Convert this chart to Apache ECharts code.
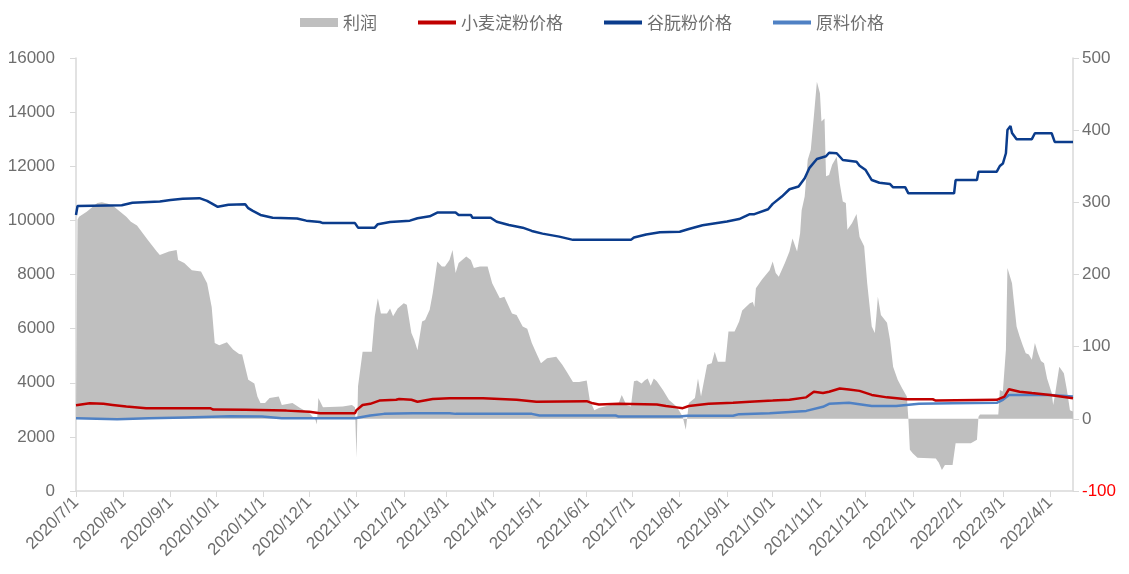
<!DOCTYPE html>
<html><head><meta charset="utf-8">
<script src="https://cdn.jsdelivr.net/npm/echarts@6/dist/echarts.min.js"></script>
<style>html,body{margin:0;padding:0;background:#fff}#c{width:1129px;height:574px}</style>
</head><body><div id="c"></div>
<script>
// Axis range (daily category axis)
const startDate = '2020/7/1';
const endDate = '2022/4/16';
const leftTicks = {min: 0, max: 16000, interval: 2000};
const rightTicks = {min: -100, max: 500, interval: 100};
const seriesNames = ['利润', '小麦淀粉价格', '谷朊粉价格', '原料价格'];

// 利润 (right axis)
const profit = [
['2020/7/1',0],['2020/7/2',276],['2020/7/3',280],['2020/7/8',287],['2020/7/15',299],['2020/7/18',300],['2020/7/22',298],['2020/7/26',294],['2020/7/30',287],
['2020/8/3',280],['2020/8/6',273],['2020/8/10',268],['2020/8/17',248],['2020/8/23',232],['2020/8/25',227],['2020/8/31',232],['2020/9/5',234],['2020/9/6',220],
['2020/9/10',216],['2020/9/15',206],['2020/9/21',204],['2020/9/25',188],['2020/9/28',155],['2020/9/30',105],['2020/10/3',102],['2020/10/8',106],['2020/10/12',96],
['2020/10/16',90],['2020/10/18',89],['2020/10/22',54],['2020/10/26',49],['2020/10/28',31],['2020/10/30',22],['2020/11/2',22],['2020/11/5',29],['2020/11/11',31],
['2020/11/13',19],['2020/11/20',22],['2020/11/25',15],['2020/12/1',8],['2020/12/5',-1],['2020/12/6',-8],['2020/12/7',29],['2020/12/10',16],['2020/12/23',17],
['2020/12/29',19],['2020/12/31',16],['2021/1/1',-54],['2021/1/2',45],['2021/1/5',93],['2021/1/11',93],['2021/1/13',142],['2021/1/15',167],['2021/1/17',146],
['2021/1/21',146],['2021/1/23',153],['2021/1/25',142],['2021/1/28',153],['2021/2/1',160],['2021/2/3',158],['2021/2/6',119],['2021/2/8',109],['2021/2/10',95],
['2021/2/13',135],['2021/2/15',137],['2021/2/18',151],['2021/2/20',174],['2021/2/23',218],['2021/2/26',211],['2021/2/28',211],['2021/3/3',220],['2021/3/5',234],
['2021/3/7',202],['2021/3/9',216],['2021/3/14',225],['2021/3/17',220],['2021/3/19',209],['2021/3/23',211],['2021/3/28',211],['2021/3/31',188],['2021/4/5',167],
['2021/4/8',169],['2021/4/13',146],['2021/4/16',144],['2021/4/20',128],['2021/4/23',125],['2021/4/26',105],['2021/4/29',91],['2021/5/2',77],['2021/5/6',84],
['2021/5/12',86],['2021/5/16',75],['2021/5/19',65],['2021/5/23',51],['2021/5/27',51],['2021/6/1',53],['2021/6/3',26],['2021/6/6',12],['2021/6/9',15],
['2021/6/22',22],['2021/6/24',33],['2021/6/27',19],['2021/6/30',17],['2021/7/2',52],['2021/7/4',53],['2021/7/7',49],['2021/7/9',53],['2021/7/11',56],
['2021/7/13',46],['2021/7/15',56],['2021/7/17',52],['2021/7/21',40],['2021/7/25',26],['2021/7/30',17],['2021/8/3',3],['2021/8/5',-15],['2021/8/7',22],
['2021/8/11',29],['2021/8/13',56],['2021/8/15',31],['2021/8/19',75],['2021/8/22',77],['2021/8/24',93],['2021/8/26',79],['2021/8/31',79],['2021/9/2',121],
['2021/9/6',121],['2021/9/9',135],['2021/9/11',150],['2021/9/16',160],['2021/9/18',162],['2021/9/19',155],['2021/9/20',181],['2021/9/24',193],['2021/9/29',206],
['2021/10/1',218],['2021/10/3',202],['2021/10/5',197],['2021/10/9',216],['2021/10/12',232],['2021/10/14',250],['2021/10/17',232],['2021/10/19',257],['2021/10/20',289],
['2021/10/22',308],['2021/10/24',359],['2021/10/26',373],['2021/10/28',419],['2021/10/30',467],['2021/11/1',451],['2021/11/2',412],['2021/11/4',416],['2021/11/5',336],
['2021/11/7',338],['2021/11/9',352],['2021/11/12',363],['2021/11/14',326],['2021/11/16',301],['2021/11/18',299],['2021/11/19',262],['2021/11/22',271],['2021/11/25',284],
['2021/11/27',252],['2021/11/30',239],['2021/12/2',188],['2021/12/5',128],['2021/12/7',119],['2021/12/8',142],['2021/12/9',169],['2021/12/11',144],['2021/12/15',133],
['2021/12/17',109],['2021/12/19',72],['2021/12/22',54],['2021/12/25',42],['2021/12/28',31],['2021/12/29',0],['2021/12/30',-43],['2022/1/1',-48],['2022/1/4',-54],
['2022/1/16',-55],['2022/1/18',-61],['2022/1/20',-71],['2022/1/22',-64],['2022/1/27',-64],['2022/1/29',-34],['2022/2/8',-34],['2022/2/12',-29],['2022/2/13',3],
['2022/2/14',6],['2022/2/26',6],['2022/2/27',40],['2022/3/1',38],['2022/3/3',96],['2022/3/4',209],['2022/3/7',188],['2022/3/8',167],['2022/3/10',128],
['2022/3/12',114],['2022/3/14',102],['2022/3/16',91],['2022/3/18',89],['2022/3/20',82],['2022/3/22',105],['2022/3/24',91],['2022/3/26',80],['2022/3/28',77],
['2022/3/30',56],['2022/4/2',36],['2022/4/3',19],['2022/4/4',31],['2022/4/7',72],['2022/4/10',63],['2022/4/12',40],['2022/4/14',12],['2022/4/16',10]
];

// 小麦淀粉价格 (left axis)
const starch = [
['2020/7/1',3170],['2020/7/10',3240],['2020/7/19',3220],['2020/7/25',3180],['2020/8/3',3120],['2020/8/16',3060],['2020/9/27',3060],['2020/9/29',3010],
['2020/10/20',3000],['2020/11/16',2970],['2020/12/1',2930],['2020/12/8',2870],['2020/12/31',2870],['2021/1/1',2990],['2021/1/5',3180],['2021/1/10',3220],
['2021/1/16',3340],['2021/1/27',3370],['2021/1/29',3400],['2021/2/6',3370],['2021/2/10',3300],['2021/2/20',3400],['2021/3/3',3430],['2021/3/25',3430],
['2021/4/16',3370],['2021/4/29',3300],['2021/6/1',3320],['2021/6/5',3240],['2021/6/9',3200],['2021/6/22',3220],['2021/7/17',3200],['2021/7/23',3140],
['2021/7/30',3090],['2021/8/3',3060],['2021/8/7',3140],['2021/8/20',3220],['2021/9/5',3260],['2021/9/16',3300],['2021/10/1',3340],['2021/10/12',3370],
['2021/10/23',3460],['2021/10/28',3670],['2021/11/3',3620],['2021/11/7',3670],['2021/11/14',3790],['2021/11/20',3750],['2021/11/27',3700],['2021/12/5',3550],
['2021/12/15',3460],['2021/12/28',3390],['2022/1/14',3390],['2022/1/16',3340],['2022/2/25',3370],['2022/3/2',3490],['2022/3/5',3760],['2022/3/12',3670],
['2022/3/20',3620],['2022/4/1',3550],['2022/4/16',3430]
];

// 谷朊粉价格 (left axis)
const gluten = [
['2020/7/1',10200],['2020/7/2',10530],['2020/7/31',10560],['2020/8/1',10620],['2020/8/7',10650],['2020/8/25',10700],['2020/9/1',10750],['2020/9/9',10800],
['2020/9/20',10820],['2020/9/25',10720],['2020/10/2',10500],['2020/10/9',10580],['2020/10/20',10600],['2020/10/22',10450],['2020/10/25',10350],['2020/10/30',10200],
['2020/11/7',10100],['2020/11/23',10070],['2020/11/29',9990],['2020/12/8',9940],['2020/12/10',9900],['2020/12/31',9900],['2021/1/2',9730],['2021/1/13',9730],
['2021/1/15',9860],['2021/1/23',9940],['2021/2/5',9990],['2021/2/10',10080],['2021/2/18',10150],['2021/2/23',10290],['2021/3/7',10290],['2021/3/9',10200],
['2021/3/17',10200],['2021/3/18',10100],['2021/3/30',10100],['2021/4/3',9950],['2021/4/11',9830],['2021/4/20',9730],['2021/4/26',9610],['2021/5/3',9510],
['2021/5/14',9400],['2021/5/23',9280],['2021/6/30',9280],['2021/7/2',9370],['2021/7/10',9480],['2021/7/19',9560],['2021/8/1',9580],['2021/8/7',9680],
['2021/8/16',9820],['2021/9/1',9960],['2021/9/9',10050],['2021/9/16',10230],['2021/9/19',10230],['2021/9/28',10410],['2021/10/1',10610],['2021/10/7',10880],
['2021/10/12',11150],['2021/10/18',11250],['2021/10/22',11560],['2021/10/25',11930],['2021/10/30',12270],['2021/11/5',12370],['2021/11/7',12500],['2021/11/12',12480],
['2021/11/16',12230],['2021/11/25',12170],['2021/11/27',12020],['2021/12/1',11860],['2021/12/5',11490],['2021/12/10',11390],['2021/12/17',11340],['2021/12/19',11220],
['2021/12/27',11220],['2021/12/29',11000],['2022/1/28',11000],['2022/1/29',11490],['2022/2/12',11490],['2022/2/13',11800],['2022/2/25',11800],['2022/2/27',12010],
['2022/3/1',12100],['2022/3/3',12480],['2022/3/4',13340],['2022/3/6',13490],['2022/3/7',13230],['2022/3/10',13000],['2022/3/20',13000],['2022/3/22',13220],
['2022/4/2',13220],['2022/4/4',12900],['2022/4/16',12900]
];

// 原料价格 (left axis)
const raw = [
['2020/7/1',2690],['2020/7/28',2650],['2020/8/18',2690],['2020/9/11',2720],['2020/10/10',2760],['2020/10/31',2750],['2020/11/13',2690],['2020/12/31',2690],
['2021/1/10',2790],['2021/1/19',2850],['2021/2/7',2870],['2021/3/3',2870],['2021/3/7',2850],['2021/4/26',2850],['2021/5/1',2790],['2021/6/20',2790],
['2021/6/22',2750],['2021/8/1',2750],['2021/8/6',2780],['2021/9/5',2780],['2021/9/9',2840],['2021/9/29',2870],['2021/10/23',2960],['2021/11/3',3110],
['2021/11/7',3220],['2021/11/20',3260],['2021/12/5',3140],['2021/12/21',3140],['2022/1/5',3220],['2022/1/27',3240],['2022/2/25',3260],['2022/3/1',3370],
['2022/3/5',3550],['2022/4/1',3550],['2022/4/16',3490]
];

// build daily category list
function buildDays(a, b) {
  const p = s => { const t = s.split('/').map(Number); return Date.UTC(t[0], t[1]-1, t[2]); };
  const out = [];
  for (let t = p(a); t <= p(b); t += 86400000) {
    const d = new Date(t);
    out.push(d.getUTCFullYear() + '/' + (d.getUTCMonth()+1) + '/' + d.getUTCDate());
  }
  return out;
}
const days = buildDays(startDate, endDate);
const isMonthStart = (i, v) => /\/1$/.test(v);

const txt = '#6E6E6E';
const axisGray = '#D9D9D9';
const chart = echarts.init(document.getElementById('c'));
chart.setOption({
  animation: false,
  backgroundColor: '#fff',
  grid: {left: 76, right: 56, top: 58, bottom: 83},
  legend: {
    left: 295, top: 9, itemGap: 41, itemWidth: 38, itemHeight: 9,
    textStyle: {color: txt, fontSize: 17, fontFamily: 'Noto Sans CJK SC'},
    data: [
      {name: seriesNames[0], icon: 'rect'},
      {name: seriesNames[1], icon: 'path://M0,0L40,0L40,4L0,4Z'},
      {name: seriesNames[2], icon: 'path://M0,0L40,0L40,4L0,4Z'},
      {name: seriesNames[3], icon: 'path://M0,0L40,0L40,4L0,4Z'}
    ]
  },
  xAxis: {
    type: 'category', data: days, boundaryGap: false,
    axisLine: {lineStyle: {color: axisGray, width: 1.5}},
    axisTick: {interval: isMonthStart, length: 6, lineStyle: {color: axisGray}},
    axisLabel: {interval: isMonthStart, rotate: 45, color: txt, fontSize: 17, margin: 9, fontFamily: 'Liberation Sans'},
    splitLine: {show: false}
  },
  yAxis: [
    {type: 'value', min: leftTicks.min, max: leftTicks.max, interval: leftTicks.interval,
     axisLine: {show: true, lineStyle: {color: axisGray, width: 1.5}},
     axisTick: {show: true, length: 6, lineStyle: {color: axisGray}},
     axisLabel: {color: txt, fontSize: 17, margin: 21, fontFamily: 'Liberation Sans', formatter: v => String(v)},
     splitLine: {show: false}},
    {type: 'value', min: rightTicks.min, max: rightTicks.max, interval: rightTicks.interval,
     axisLine: {show: true, lineStyle: {color: axisGray, width: 1.5}},
     axisTick: {show: true, length: 6, lineStyle: {color: axisGray}},
     axisLabel: {margin: 9, fontSize: 17, fontFamily: 'Liberation Sans', formatter: v => String(v),
       color: v => v < 0 ? '#FF0000' : txt},
     splitLine: {show: false}}
  ],
  series: [
    {name: seriesNames[0], type: 'line', yAxisIndex: 1, data: profit, symbol: 'none',
     lineStyle: {width: 0}, itemStyle: {color: '#BFBFBF'},
     areaStyle: {color: '#BFBFBF', opacity: 1}, z: 1},
    {name: seriesNames[1], type: 'line', yAxisIndex: 0, data: starch, symbol: 'none',
     lineStyle: {width: 2.5, color: '#C00000'}, itemStyle: {color: '#C00000'}, z: 3},
    {name: seriesNames[2], type: 'line', yAxisIndex: 0, data: gluten, symbol: 'none',
     lineStyle: {width: 2.5, color: '#0B3C8C'}, itemStyle: {color: '#0B3C8C'}, z: 3},
    {name: seriesNames[3], type: 'line', yAxisIndex: 0, data: raw, symbol: 'none',
     lineStyle: {width: 2.5, color: '#4F81C4'}, itemStyle: {color: '#4F81C4'}, z: 2}
  ]
});
</script></body></html>
